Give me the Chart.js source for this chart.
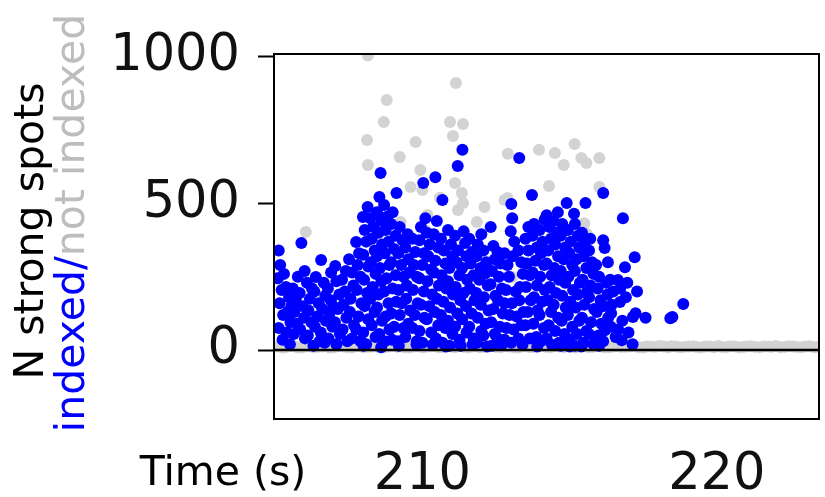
<!DOCTYPE html>
<html>
<head>
<meta charset="utf-8">
<script src="https://cdn.jsdelivr.net/npm/chart.js@4.4.0/dist/chart.umd.min.js"></script>
<style>
  body { margin: 0; background: #fff; }
  #wrap { width: 825px; height: 497px; position: relative; }
</style>
</head>
<body>
<div id="wrap"><canvas id="myChart"></canvas></div>
<script>
// [time (s), N strong spots] for images that indexed
const indexed = [
  [205.12,340],[205.17,290],[205.09,245],[205.22,205],[205.15,160],[205.27,120],[205.12,75],[205.25,35],
  [205.37,215],[205.47,180],[205.42,130],[205.52,95],[205.39,60],[205.55,150],
  [205.6,210],[205.7,175],[205.65,130],[205.75,90],[205.63,55],[205.77,250],
  [205.89,365],[205.83,195],[205.93,150],[205.98,110],[205.85,70],[206.01,40],
  [206.08,230],[206.18,175],[206.13,135],[206.23,95],[206.11,50],[206.25,210],
  [206.38,249],[206.33,200],[206.48,160],[206.43,115],[206.35,80],[206.51,30],
  [206.56,307],[206.65,230],[206.7,185],[206.6,140],[206.72,100],[206.55,60],[206.68,25],
  [206.79,210],[206.89,170],[206.84,125],[206.94,80],[206.81,40],[206.97,150],
  [207.04,287],[207.08,235],[207.18,190],[207.13,140],[207.03,95],[207.2,55],[207.08,20],
  [207.27,240],[207.37,200],[207.32,155],[207.42,110],[207.29,70],[207.45,30],
  [207.51,310],[207.61,265],[207.66,220],[207.56,175],[207.54,130],[207.68,85],[207.61,40],
  [207.75,369],[207.85,330],[207.8,290],[207.9,250],[207.77,205],[207.93,160],[207.83,115],[207.75,70],[207.9,30],
  [207.98,454],[208.14,488],[208.04,410],[208.09,370],[207.99,325],[208.16,285],[208.02,240],[208.12,195],[208.04,150],[208.16,105],[207.99,60],[208.09,20],
  [208.23,450],[208.33,420],[208.28,380],[208.38,340],[208.25,300],[208.41,260],[208.31,215],[208.23,175],[208.38,130],[208.28,85],[208.41,45],
  [208.58,604],[208.54,522],[208.46,470],[208.61,440],[208.51,400],[208.63,360],[208.46,320],[208.56,280],[208.61,235],[208.51,190],[208.46,145],[208.63,100],[208.53,55],
  [208.7,495],[208.8,455],[208.75,410],[208.85,370],[208.72,330],[208.88,290],[208.78,245],[208.7,200],[208.85,160],[208.75,115],[208.88,70],[208.72,30],
  [209.12,536],[208.99,470],[208.94,430],[209.09,390],[209.04,345],[208.94,300],[209.09,255],[208.99,210],[209.11,165],[208.94,125],[209.04,80],[208.97,35],
  [209.23,420],[209.33,375],[209.18,330],[209.28,290],[209.36,250],[209.2,205],[209.3,160],[209.23,120],[209.36,75],[209.18,30],
  [209.42,350],[209.52,310],[209.57,265],[209.47,220],[209.45,175],[209.59,135],[209.52,90],[209.42,45],
  [209.66,380],[209.76,335],[209.71,290],[209.81,250],[209.68,205],[209.84,160],[209.74,120],[209.66,75],[209.81,30],
  [210.03,570],[209.95,420],[209.9,375],[210.05,330],[210.0,290],[209.9,245],[210.05,200],[209.95,155],[210.07,110],[209.9,65],[210.0,25],
  [210.15,400],[210.25,360],[210.2,320],[210.3,275],[210.17,235],[210.33,190],[210.23,150],[210.15,105],[210.3,60],
  [210.44,590],[210.49,440],[210.39,395],[210.54,350],[210.44,305],[210.39,265],[210.56,220],[210.49,175],[210.42,130],[210.54,85],[210.46,40],
  [210.68,512],[210.63,380],[210.73,340],[210.78,295],[210.65,255],[210.81,210],[210.71,165],[210.63,120],[210.78,75],[210.68,25],
  [210.87,410],[210.97,360],[211.02,320],[210.92,280],[210.87,235],[211.04,190],[210.94,145],[210.87,100],[211.02,55],[210.92,15],
  [211.36,683],[211.2,628],[211.11,390],[211.21,340],[211.16,300],[211.26,255],[211.13,215],[211.29,170],[211.19,125],[211.11,80],[211.26,35],
  [211.4,405],[211.45,365],[211.5,320],[211.35,280],[211.52,240],[211.4,195],[211.48,150],[211.35,105],[211.5,60],
  [211.59,380],[211.69,335],[211.64,295],[211.74,255],[211.61,210],[211.77,170],[211.67,125],[211.59,80],[211.74,40],
  [211.88,360],[211.83,320],[211.98,280],[211.93,240],[211.83,195],[211.98,155],[211.88,110],[212.0,65],[211.86,25],
  [212.07,340],[212.17,300],[212.12,260],[212.22,220],[212.09,180],[212.25,135],[212.15,90],[212.07,50],
  [212.32,420],[212.41,355],[212.46,310],[212.36,270],[212.31,225],[212.48,185],[212.41,140],[212.34,95],[212.46,55],[212.36,15],
  [212.55,335],[212.65,295],[212.6,250],[212.7,210],[212.57,170],[212.73,125],[212.63,80],[212.55,40],
  [212.79,330],[212.89,290],[212.94,250],[212.84,205],[212.79,160],[212.96,120],[212.86,75],[212.79,35],
  [213.02,498],[213.05,450],[213.29,655],[213.12,370],[213.07,320],[213.17,200],[213.04,160],[213.2,115],[213.1,70],[213.02,25],
  [213.26,340],[213.36,300],[213.41,260],[213.31,215],[213.29,170],[213.43,130],[213.36,85],[213.26,40],
  [213.5,380],[213.6,340],[213.55,295],[213.65,255],[213.52,215],[213.68,170],[213.58,130],[213.5,85],[213.65,40],
  [213.72,529],[213.79,430],[213.74,390],[213.89,350],[213.84,305],[213.74,265],[213.89,220],[213.79,180],[213.91,135],[213.77,90],[213.87,45],
  [213.98,410],[214.08,370],[214.03,330],[214.13,290],[214.0,250],[214.16,205],[214.06,165],[213.98,120],[214.13,75],[214.03,30],
  [214.22,460],[214.32,420],[214.37,380],[214.27,340],[214.22,295],[214.39,255],[214.32,215],[214.25,170],[214.37,130],[214.29,85],[214.22,40],
  [214.46,440],[214.56,400],[214.51,360],[214.61,320],[214.48,280],[214.64,240],[214.54,195],[214.46,155],[214.61,110],[214.51,65],[214.64,25],
  [214.75,430],[214.7,390],[214.85,350],[214.8,310],[214.7,270],[214.85,230],[214.75,185],[214.87,145],[214.73,100],[214.83,55],[214.7,15],
  [214.9,502],[214.94,410],[215.04,370],[214.99,330],[215.09,290],[214.96,250],[215.12,205],[215.02,165],[214.94,120],[215.09,80],[214.99,35],
  [215.18,430],[215.28,390],[215.33,350],[215.23,310],[215.18,270],[215.35,230],[215.28,190],[215.21,145],[215.33,100],[215.25,55],[215.18,15],
  [215.54,502],[215.5,365],[215.42,400],[215.47,320],[215.57,280],[215.44,240],[215.6,200],[215.5,155],[215.42,110],[215.57,65],[215.47,25],
  [215.66,340],[215.76,300],[215.81,260],[215.71,220],[215.66,180],[215.83,140],[215.73,95],[215.66,55],[215.81,20],
  [215.9,290],[216.0,250],[215.95,210],[216.05,170],[215.92,130],[216.08,90],[215.98,50],
  [216.14,536],[216.14,375],[216.19,348],[216.24,230],[216.29,190],[216.14,150],[216.31,110],[216.21,70],[216.14,30],
  [216.38,240],[216.48,200],[216.43,155],[216.41,126],[216.4,80],[216.56,45],[216.2,68],
  [216.71,164],[216.77,34],[216.64,239],[216.72,210],[216.79,100],[216.65,70],
  [216.81,450],[216.88,283],[216.96,230],[216.91,180],[217.0,60],
  [217.21,317],[217.15,113],[217.24,126],[217.29,200],[217.14,20],
  [217.58,110],[218.42,109],[218.49,113],[218.86,157],
  // extra fill inside the dense parts
  [205.3,260],[205.5,20],[206.0,270],[206.3,15],[206.9,265],[207.4,270],[208.0,15],[208.6,10],
  [209.2,15],[209.5,395],[209.8,20],[210.1,450],[210.35,18],[210.8,12],[211.3,15],[211.7,18],
  [212.0,395],[212.2,12],[212.7,18],[213.0,405],[213.4,18],[213.6,420],[213.9,12],[214.15,445],
  [214.4,18],[214.6,470],[215.0,12],[215.15,465],[215.4,12],[215.7,380],[216.0,15],[216.3,300]
];

// [time (s), N strong spots] for images that did not index
const notIndexed = [
  [206.04,403],[208.79,853],[208.69,778],[208.12,717],[209.23,659],[208.15,631],[209.23,433],
  [211.14,911],[210.94,778],[211.38,771],[211.04,730],[209.77,710],[209.93,614],[209.6,556],
  [211.11,570],[211.34,536],[211.21,478],[210.17,461],[212.11,488],[213.96,683],[212.89,519],
  [214.5,672],[214.8,631],[215.17,703],[215.4,655],[215.57,638],[216.01,655],[215.5,433],
  [215.57,399],[216.01,556],[208.15,1005],[209.26,437],[213.05,249],[210.0,546],[211.38,502],
  [210.1,410],[215.34,386],[212.9,670],[211.85,437],[212.79,512],[214.3,560],[210.6,520],
  [205.1,12],[205.25,9],[205.35,10],[205.5,13],[205.6,14],[205.75,10],[205.9,9],[206.05,12],
  [206.2,13],[206.3,10],[206.45,11],[206.6,12],[206.75,15],[206.85,9],[207.0,10],[207.15,13],
  [207.3,12],[207.45,10],[207.6,9],[207.7,12],[207.85,14],[208.0,10],[208.15,11],[208.3,12],
  [208.45,13],[208.55,9],[208.7,10],[208.85,12],[209.0,15],[209.15,11],[209.3,12],[209.4,10],
  [209.55,9],[209.7,12],[209.85,13],[210.0,10],[210.1,11],[210.25,12],[210.4,14],[210.55,10],
  [210.7,10],[210.85,13],[210.95,12],[211.1,10],[211.25,15],[211.4,11],[211.55,9],[211.7,12],
  [211.8,13],[211.95,10],[212.1,11],[212.25,12],[212.4,14],[212.5,11],[212.65,10],[212.8,13],
  [212.95,12],[213.1,10],[213.25,9],[213.4,12],[213.5,13],[213.65,10],[213.8,11],[213.95,12],
  [214.1,15],[214.2,11],[214.35,10],[214.5,13],[214.65,12],[214.8,10],[214.95,14],[215.1,11],
  [215.2,9],[215.35,12],[215.5,13],[215.65,10],[215.8,11],[215.9,13],[216.05,12],[216.2,10],
  [216.35,10],[216.5,12],[216.65,14],[216.75,11],[216.9,11],[217.05,12],[217.2,13],[217.35,10],
  [217.5,9],[217.6,12],[217.75,12],[217.9,11],[218.05,14],[218.2,12],[218.35,10],[218.45,13],
  [218.6,12],[218.75,10],[218.9,11],[219.05,12],[219.2,13],[219.3,11],[219.45,9],[219.6,12],
  [219.75,12],[219.9,10],[220.05,14],[220.15,11],[220.3,10],[220.45,13],[220.6,12],[220.75,10],
  [220.9,11],[221.0,12],[221.15,13],[221.3,11],[221.45,10],[221.6,12],[221.75,12],[221.85,11],
  [222.0,14],[222.15,10],[222.3,11],[222.45,13],[222.6,12],[222.7,11],[222.85,10],[223.0,12],
  [223.15,13],[223.3,10],[223.4,11]
];

const xTicks = [210, 220];
const yTicks = [0, 500, 1000];
const xRange = [204.96, 223.47];
const yRange = [-235, 1010];

const FONT = "'DejaVu Sans'";

const extras = {
  id: "extras",
  afterDatasetsDraw(chart) {
    const ctx = chart.ctx;
    const area = chart.chartArea;
    const y0 = chart.scales.y.getPixelForValue(0);
    ctx.save();
    ctx.strokeStyle = "#000";
    ctx.lineWidth = 2.5;
    ctx.beginPath();
    ctx.moveTo(area.left, y0);
    ctx.lineTo(area.right, y0);
    ctx.stroke();
    ctx.restore();
  },
  afterDraw(chart) {
    const ctx = chart.ctx;
    const area = chart.chartArea;
    ctx.save();
    // frame
    ctx.strokeStyle = "#000";
    ctx.lineWidth = 2;
    ctx.strokeRect(area.left, area.top, area.right - area.left, area.bottom - area.top);

    // y title, two lines
    ctx.font = "41px " + FONT;
    ctx.textBaseline = "alphabetic";
    ctx.save();
    ctx.translate(43, 231);
    ctx.rotate(-Math.PI / 2);
    ctx.textAlign = "center";
    ctx.fillStyle = "#000";
    ctx.fillText("N strong spots", 0, 0);
    ctx.restore();

    ctx.save();
    ctx.translate(84, 223);
    ctx.rotate(-Math.PI / 2);
    ctx.textAlign = "left";
    const a = "indexed/";
    const b = "not indexed";
    const w = ctx.measureText(a + b).width;
    ctx.fillStyle = "#0000ff";
    ctx.fillText(a, -w / 2, 0);
    ctx.fillStyle = "#bdbdbd";
    ctx.fillText(b, -w / 2 + ctx.measureText(a).width, 0);
    ctx.restore();

    // x title
    ctx.textAlign = "center";
    ctx.fillStyle = "#000";
    ctx.fillText("Time (s)", 223, 485);
    ctx.restore();
  }
};

const data = {
  datasets: [
    {
      label: "indexed",
      data: indexed.map(function (p) { return { x: p[0], y: p[1] } }),
      backgroundColor: "#0000ff",
      borderWidth: 0,
      pointRadius: 6,
    },
    {
      label: "not indexed",
      data: notIndexed.map(function (p) { return { x: p[0], y: p[1] } }),
      backgroundColor: "#d3d3d3",
      borderWidth: 0,
      pointRadius: 6,
    },
  ],
};

const config = {
  type: "scatter",
  data: data,
  options: {
    responsive: true,
    maintainAspectRatio: false,
    animation: false,
    layout: { padding: { top: 54, right: 2, left: 0, bottom: 0 } },
    plugins: { legend: { display: false }, tooltip: { enabled: false } },
    scales: {
      x: {
        type: "linear",
        min: xRange[0],
        max: xRange[1],
        afterBuildTicks(scale) {
          scale.ticks = xTicks.map(function (v) { return { value: v } })
        },
        afterFit(scale) { scale.height = 78 },
        grid: { display: false, drawTicks: false },
        border: { display: true, color: "#000", width: 2 },
        ticks: {
          color: "#111", font: { family: "DejaVu Sans", size: 51 }, padding: 26, maxRotation: 0, autoSkip: false,
          callback: function (v) { return String(v) },
        },
      },
      y: {
        type: "linear",
        min: yRange[0],
        max: yRange[1],
        afterBuildTicks(scale) {
          scale.ticks = yTicks.map(function (v) { return { value: v } })
        },
        afterFit(scale) { scale.width = 274 },
        grid: { drawOnChartArea: false, drawTicks: true, tickLength: 16, tickColor: "#000", tickWidth: 2, color: "#000" },
        border: { display: true, color: "#000", width: 2 },
        ticks: {
          color: "#111", font: { family: "DejaVu Sans", size: 51 }, padding: 18, autoSkip: false,
          callback: function (v) { return String(v) },
        },
      },
    },
  },
  plugins: [extras],
};

const myChart = new Chart(document.getElementById("myChart"), config)
</script>
</body>
</html>
